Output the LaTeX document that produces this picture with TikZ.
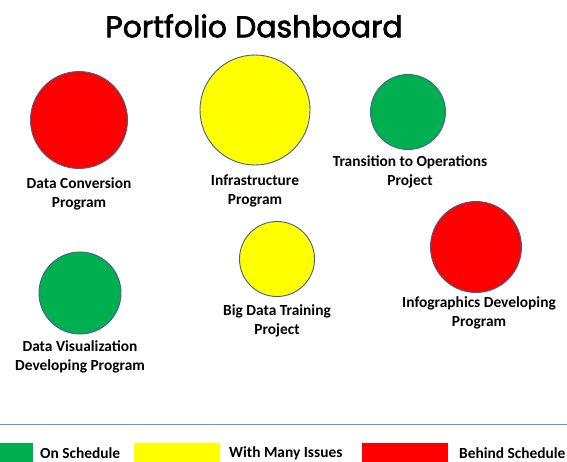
\documentclass[tikz,border=0pt]{standalone}
\usepackage{fontspec}
\setmainfont{Carlito}
\newfontfamily\titlefont[BoldFont=Poppins,BoldFeatures={FakeBold=2.2}]{Poppins}
\usetikzlibrary{positioning}

\definecolor{ontrack}{RGB}{0,176,80}
\definecolor{issues}{RGB}{255,255,0}
\definecolor{behind}{RGB}{255,0,0}
\definecolor{rim}{RGB}{68,96,140}
\definecolor{rule}{RGB}{91,155,213}

\begin{document}
\begin{tikzpicture}[
        x=1pt,y=-1pt,
        status/.style={
          draw=rim,
          line width=0.9pt,
          circle,
          inner sep=0pt
          },
        caption/.style={
          align=center,
          font=\fontsize{15.4}{18.5}\selectfont\bfseries
          },
        swatch/.style={
          minimum height=20pt,
          inner sep=0pt,
          anchor=north west
          },
        keytext/.style={
          anchor=west,
          inner sep=0pt,
          font=\fontsize{15.4}{18}\selectfont\bfseries
          }
        ]
        \useasboundingbox (0,0) rectangle (567,461);
        % title
        \node[font=\titlefont\fontsize{30}{38}\selectfont\bfseries] (title) at (254,26) {Portfolio Dashboard};
        % projects and programs
        \node[status,fill=behind,minimum size=97pt] (conv) at (79,120) {};
        \node[caption] (convlbl) at (79,194) {Data Conversion\\Program};
        \node[status,fill=issues,minimum size=110pt] (infra) at (255,110) {};
        \node[caption] (infralbl) at (255,191) {Infrastructure\\Program};
        \node[status,fill=ontrack,minimum size=75pt] (trans) at (408,112) {};
        \node[caption] (translbl) at (410,172) {Transition to Operations\\Project};
        \node[status,fill=issues,minimum size=75pt] (bigdata) at (277,259) {};
        \node[caption] (bigdatalbl) at (277,321) {Big Data Training\\Project};
        \node[status,fill=behind,minimum size=91pt] (infog) at (476,247) {};
        \node[caption] (infoglbl) at (479,313) {Infographics Developing\\Program};
        \node[status,fill=ontrack,minimum size=82pt] (visual) at (80,293) {};
        \node[caption] (visuallbl) at (80,357) {Data Visualization\\Developing Program};
        % legend
        \coordinate (rulew) at (0,424);
        \coordinate (rulee) at (567,424);
        \draw[rule,line width=0.8pt] (rulew) -- (rulee);
        \node[swatch,fill=ontrack,minimum width=33pt] (keyon) at (0,443) {};
        \node[keytext] (keyontxt) at (40,453) {On Schedule};
        \node[swatch,fill=issues,minimum width=86pt] (keyiss) at (134,443) {};
        \node[keytext] (keyisstxt) at (229,453) {With Many Issues};
        \node[swatch,fill=behind,minimum width=86pt] (keybeh) at (362,443) {};
        \node[keytext] (keybehtxt) at (459,453) {Behind Schedule};
    \end{tikzpicture}
\end{document}
